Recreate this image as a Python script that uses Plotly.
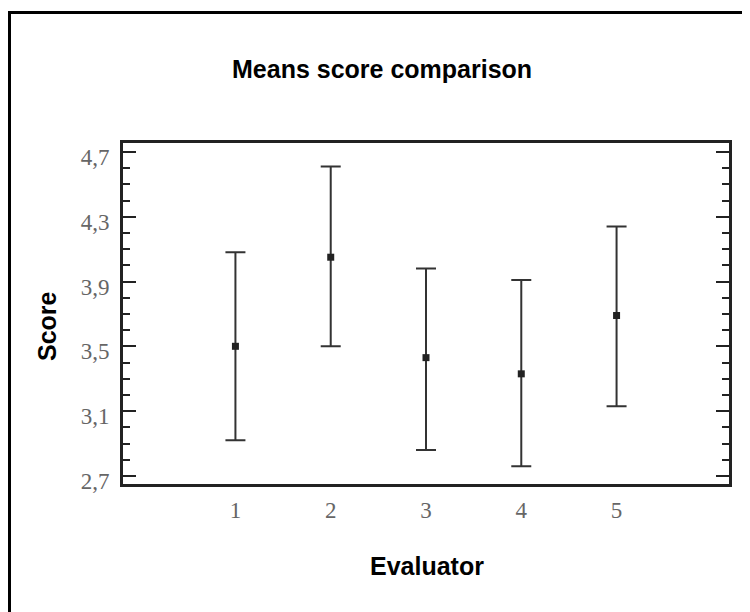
import plotly.graph_objects as go

# ---- data ----
evaluators = [1, 2, 3, 4, 5]
x_labels = ["1", "2", "3", "4", "5"]
means = [3.50, 4.05, 3.43, 3.33, 3.69]
upper = [4.08, 4.61, 3.98, 3.91, 4.24]
lower = [2.92, 3.50, 2.86, 2.76, 3.13]
y_tickvals = [2.7, 3.1, 3.5, 3.9, 4.3, 4.7]
y_ticktext = ["2,7", "3,1", "3,5", "3,9", "4,3", "4,7"]

err_plus = [u - m for u, m in zip(upper, means)]
err_minus = [m - l for m, l in zip(means, lower)]

OFF = 8  # page body margin
W, H = 750 - OFF, 612 - OFF
L, T = 123 - OFF, 143 - OFF
R = W - (729 - OFF)
B = H - (484 - OFF)
pw, ph = W - L - R, H - T - B


def px_x(px):
    return (px - OFF - L) / pw


def px_y(py):
    return (H - B - (py - OFF)) / ph


fig = go.Figure()
fig.add_trace(go.Scatter(
    x=evaluators, y=means, mode="markers",
    marker=dict(symbol="square", size=7, color="#222"),
    error_y=dict(type="data", symmetric=False, array=err_plus, arrayminus=err_minus,
                 color="#333", thickness=2, width=10),
    showlegend=False,
))

tick_font = dict(family="Liberation Serif, Times New Roman, serif", size=23, color="#666")

fig.update_layout(
    width=W, height=H,
    margin=dict(l=L, r=R, t=T, b=B),
    paper_bgcolor="white", plot_bgcolor="white",
    xaxis=dict(
        range=[-0.18, 6.18], tickvals=evaluators, ticktext=x_labels,
        showgrid=False, zeroline=False, ticks="",
        showline=True, linecolor="#222", linewidth=3, mirror=True,
        tickfont=tick_font, ticklabelstandoff=3,
    ),
    yaxis=dict(
        range=[2.65, 4.755], tickvals=y_tickvals, ticktext=y_ticktext,
        showgrid=False, zeroline=False,
        ticks="inside", ticklen=13, tickwidth=2, tickcolor="#222",
        showline=True, linecolor="#222", linewidth=3, mirror="ticks",
        tickfont=tick_font, ticklabelshift=5, ticklabelstandoff=6,
        minor=dict(dtick=0.1, tick0=2.7, ticks="inside", ticklen=7, tickwidth=2,
                   tickcolor="#222", showgrid=False),
    ),
    shapes=[dict(type="rect", xref="paper", yref="paper",
                 x0=px_x(9.5), x1=3, y0=-3, y1=px_y(12.5),
                 line=dict(color="black", width=3), fillcolor="rgba(0,0,0,0)")],
    annotations=[
        dict(text="<b>Means score comparison</b>", xref="paper", yref="paper",
             x=px_x(382), y=px_y(69), xanchor="center", yanchor="middle", showarrow=False,
             font=dict(family="Liberation Sans, Arial, sans-serif", size=25, color="black")),
        dict(text="<b>Score</b>", xref="paper", yref="paper", textangle=-90,
             x=px_x(47), y=px_y(326), xanchor="center", yanchor="middle", showarrow=False,
             font=dict(family="Liberation Sans, Arial, sans-serif", size=25, color="black")),
        dict(text="<b>Evaluator</b>", xref="paper", yref="paper",
             x=px_x(427), y=px_y(566), xanchor="center", yanchor="middle", showarrow=False,
             font=dict(family="Liberation Sans, Arial, sans-serif", size=25, color="black")),
    ],
)

fig.write_html("out.html")
